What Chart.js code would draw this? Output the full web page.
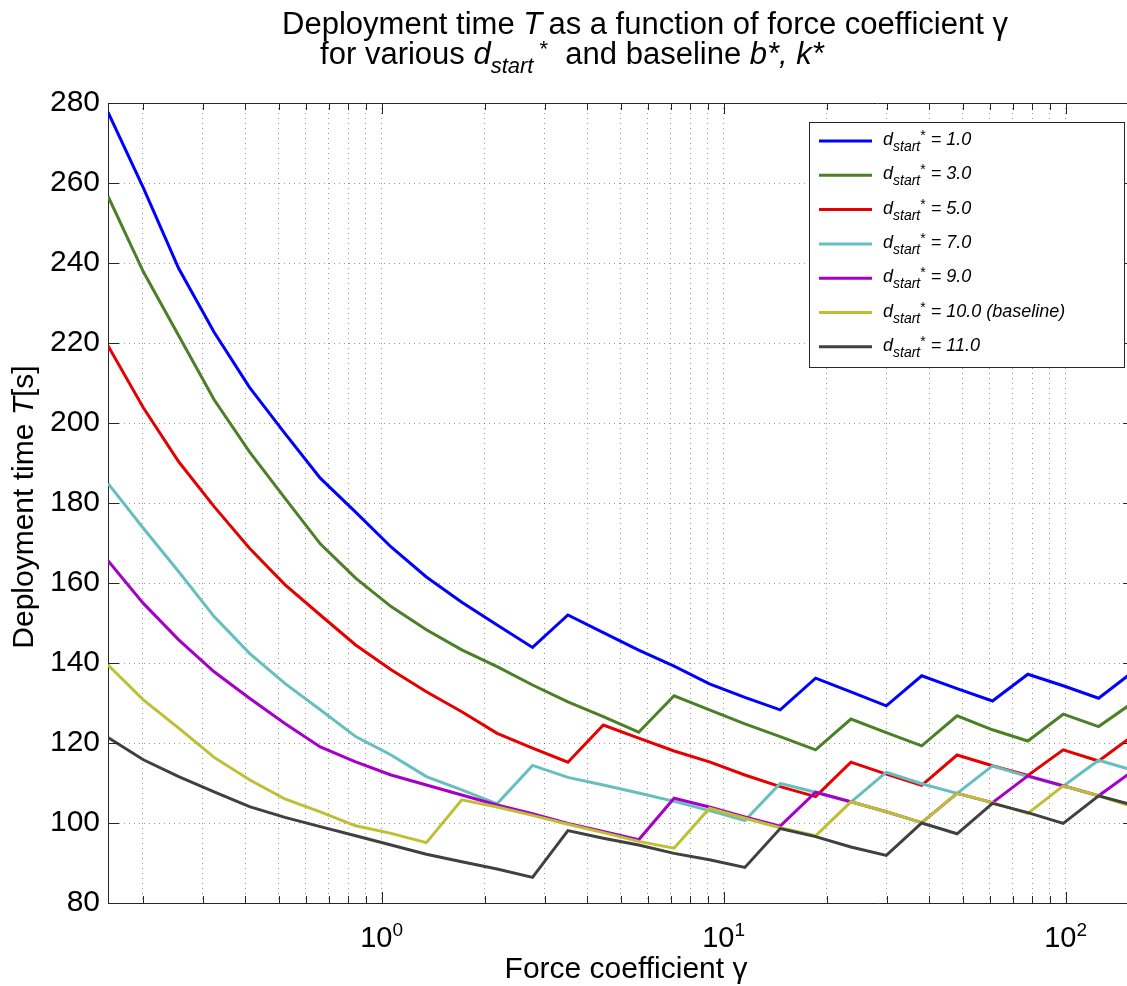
<!DOCTYPE html>
<html>
<head>
<meta charset="UTF-8">
<title>Deployment time vs force coefficient</title>
<script src="https://cdn.jsdelivr.net/npm/chart.js"></script>
<style>
  html, body { margin: 0; padding: 0; background: #fff; overflow: hidden; }
  canvas { display: block; }
</style>
</head>
<body>
<canvas id="myChart" width="1140" height="986"></canvas>

<script>
// force coefficient gamma, log-spaced samples
const gamma = [0.1585, 0.2011, 0.2552, 0.3239, 0.4110, 0.5215, 0.6618, 0.8397, 1.066, 1.352,
               1.716, 2.177, 2.763, 3.506, 4.450, 5.646, 7.165, 9.093, 11.54, 14.64,
               18.58, 23.57, 29.91, 37.96, 48.17, 61.12, 77.57, 98.42, 124.9, 158.5];

// deployment time T [s] for each d_start*
const T_d1 = [277.7, 258.8, 238.6, 222.7, 208.9, 197.4, 186.2, 177.7, 169.0, 161.5,
              155.2, 149.5, 143.9, 152.0, 147.6, 143.2, 139.2, 134.8, 131.4, 128.3,
              136.2, 132.8, 129.3, 136.8, 133.6, 130.5, 137.2, 134.3, 131.2, 138.0];
const T_d3 = [256.7, 237.8, 221.8, 205.8, 192.8, 181.2, 169.8, 161.2, 154.1, 148.3,
              143.3, 139.1, 134.5, 130.3, 126.6, 122.7, 131.8, 128.3, 124.8, 121.6,
              118.3, 126.0, 122.6, 119.3, 126.8, 123.3, 120.5, 127.2, 124.1, 130.3];
const T_d5 = [219.3, 203.8, 190.3, 179.1, 168.7, 159.6, 152.0, 144.5, 138.3, 132.8,
              127.8, 122.4, 118.7, 115.2, 124.5, 121.2, 118.0, 115.3, 112.0, 109.1,
              106.6, 115.2, 112.2, 109.4, 117.0, 114.3, 111.9, 118.3, 115.5, 122.0];
const T_d7 = [184.9, 173.7, 162.8, 151.6, 142.4, 134.9, 128.3, 121.6, 117.0, 111.6,
              108.3, 104.8, 114.4, 111.4, 109.5, 107.5, 105.4, 103.1, 100.6, 109.9,
              107.7, 105.2, 112.7, 109.8, 107.4, 114.3, 111.6, 109.2, 115.7, 113.1];
const T_d9 = [165.6, 154.9, 145.8, 137.8, 131.2, 124.9, 119.0, 115.3, 112.0, 109.5,
              107.0, 104.5, 102.3, 99.9, 97.9, 95.8, 106.2, 104.0, 101.5, 99.2,
              107.7, 105.3, 102.8, 100.1, 107.4, 105.1, 111.8, 109.3, 106.8, 113.2];
const T_d10 = [139.5, 130.8, 123.7, 116.4, 110.8, 106.0, 102.8, 99.3, 97.4, 95.1,
               105.8, 104.0, 101.9, 99.7, 97.6, 95.4, 93.7, 103.7, 101.2, 98.8,
               96.8, 105.3, 102.8, 100.1, 107.4, 105.1, 102.4, 109.3, 106.8, 104.0];
const T_d11 = [121.4, 115.8, 111.6, 107.8, 104.1, 101.4, 99.1, 96.8, 94.5, 92.2,
               90.3, 88.5, 86.4, 98.1, 96.2, 94.5, 92.4, 90.8, 88.9, 98.6,
               96.6, 94.0, 91.9, 100.0, 97.3, 104.9, 102.6, 99.9, 106.8, 104.4];

const series = [T_d1, T_d3, T_d5, T_d7, T_d9, T_d10, T_d11];
const dStart = ['1.0', '3.0', '5.0', '7.0', '9.0', '10.0', '11.0'];
const dNote = ['', '', '', '', '', ' (baseline)', ''];

const lineColors = ['#0000ff', '#4b8026', '#e60000', '#66bfbf', '#a600c8', '#bfbf33', '#404040'];

const xMin = 0.1585, xMax = 158.5;
const yMin = 80, yMax = 280, yStep = 20;
const xTicks = [0.2, 0.3, 0.4, 0.5, 0.6, 0.7, 0.8, 0.9, 1, 2, 3, 4, 5, 6, 7, 8, 9,
                10, 20, 30, 40, 50, 60, 70, 80, 90, 100];
const xLabelTicks = [1, 10, 100];

const FONT = '"Liberation Sans", Arial, Helvetica, sans-serif';
const axisColor = '#262626';
const gridColor = 'rgba(0,0,0,0.4)';

// draw a line of mixed-style text; runs = [{t, size, italic, dy}]
function drawRuns(ctx, runs, x, y, align) {
  let w = 0;
  runs.forEach(r => {
    ctx.font = (r.italic ? 'italic ' : '') + r.size + 'px ' + FONT;
    r.w = ctx.measureText(r.t).width;
    w += r.w;
  });
  let cx = align === 'center' ? x - w / 2 : x;
  runs.forEach(r => {
    ctx.font = (r.italic ? 'italic ' : '') + r.size + 'px ' + FONT;
    ctx.fillText(r.t, cx, y + (r.dy || 0));
    cx += r.w;
  });
}

const decorations = {
  id: 'decorations',
  afterDraw(chart) {
    const { ctx, chartArea: a, scales: { x, y } } = chart;
    ctx.save();
    ctx.strokeStyle = axisColor;
    ctx.lineWidth = 1;

    // top and right sides of the box
    ctx.beginPath();
    ctx.moveTo(a.left, a.top + 0.5);
    ctx.lineTo(a.right, a.top + 0.5);
    ctx.moveTo(a.right - 0.5, a.top);
    ctx.lineTo(a.right - 0.5, a.bottom);
    ctx.stroke();

    // tick marks pointing into the plot
    ctx.beginPath();
    x.ticks.forEach(t => {
      const px = Math.round(x.getPixelForValue(t.value)) + 0.5;
      const len = xLabelTicks.includes(t.value) ? 11 : 7;
      ctx.moveTo(px, a.bottom); ctx.lineTo(px, a.bottom - len);
      ctx.moveTo(px, a.top); ctx.lineTo(px, a.top + len);
    });
    y.ticks.forEach(t => {
      const py = Math.round(y.getPixelForValue(t.value)) + 0.5;
      ctx.moveTo(a.left, py); ctx.lineTo(a.left + 11, py);
      ctx.moveTo(a.right, py); ctx.lineTo(a.right - 11, py);
    });
    ctx.stroke();

    ctx.fillStyle = '#000';
    ctx.textBaseline = 'alphabetic';

    // decade labels 10^n
    xLabelTicks.forEach(v => {
      const exp = String(Math.round(Math.log10(v)));
      const px = x.getPixelForValue(v);
      ctx.font = '29px ' + FONT;
      const wb = ctx.measureText('10').width;
      ctx.font = '19px ' + FONT;
      const we = ctx.measureText(exp).width;
      const left = px - (wb + we) / 2;
      ctx.font = '29px ' + FONT;
      ctx.fillText('10', left, a.bottom + 44);
      ctx.font = '19px ' + FONT;
      ctx.fillText(exp, left + wb, a.bottom + 33);
    });

    // axis titles
    drawRuns(ctx, [{ t: 'Force coefficient \u03b3', size: 30 }], (a.left + a.right) / 2 + 5, a.bottom + 75, 'center');
    ctx.save();
    ctx.translate(33, (a.top + a.bottom) / 2 + 4);
    ctx.rotate(-Math.PI / 2);
    drawRuns(ctx, [
      { t: 'Deployment time ', size: 30 },
      { t: 'T', size: 30, italic: true },
      { t: '[s]', size: 30 }
    ], 0, 0, 'center');
    ctx.restore();

    // title
    drawRuns(ctx, [
      { t: 'Deployment time ', size: 31 },
      { t: 'T', size: 31, italic: true },
      { t: '\u2009as a function of force coefficient \u03b3', size: 31 }
    ], 645, 34, 'center');
    drawRuns(ctx, [
      { t: 'for various ', size: 31 },
      { t: 'd', size: 31, italic: true },
      { t: 'start', size: 22, italic: true, dy: 9 },
      { t: ' *', size: 22, dy: -8 },
      { t: '  and baseline ', size: 31 },
      { t: 'b*, k*', size: 31, italic: true }
    ], 572, 64, 'center');

    // legend
    const box = { l: 809, t: 122, r: 1125, b: 368 };
    ctx.fillStyle = '#fff';
    ctx.fillRect(box.l, box.t, box.r - box.l, box.b - box.t);
    ctx.strokeStyle = axisColor;
    ctx.strokeRect(box.l + 0.5, box.t + 0.5, box.r - box.l - 1, box.b - box.t - 1);
    chart.data.datasets.forEach((ds, i) => {
      const cy = 141 + i * 34.3;
      ctx.strokeStyle = ds.borderColor;
      ctx.lineWidth = 3;
      ctx.beginPath();
      ctx.moveTo(819, cy); ctx.lineTo(872, cy);
      ctx.stroke();
      ctx.fillStyle = '#000';
      drawRuns(ctx, [
        { t: 'd', size: 18, italic: true },
        { t: 'start', size: 14, italic: true, dy: 6 },
        { t: '*', size: 14, dy: -5 },
        { t: ' = ' + dStart[i] + dNote[i], size: 18, italic: true }
      ], 883, cy + 4, 'left');
    });
    ctx.restore();
  }
};

const ctx = document.getElementById('myChart').getContext('2d');
new Chart(ctx, {
  type: 'line',
  data: {
    datasets: series.map((s, i) => ({
      label: 'd_start* = ' + dStart[i] + dNote[i],
      data: s.map((v, j) => ({ x: gamma[j], y: v })),
      borderColor: lineColors[i],
      backgroundColor: lineColors[i],
      borderWidth: 3,
      pointRadius: 0,
      tension: 0,
      fill: false,
      order: series.length - 1 - i
    }))
  },
  options: {
    responsive: false,
    animation: false,
    devicePixelRatio: 1,
    layout: { padding: { top: 103, right: 6, left: 0, bottom: 0 } },
    plugins: { legend: { display: false }, tooltip: { enabled: false } },
    scales: {
      x: {
        type: 'logarithmic',
        min: xMin,
        max: xMax,
        afterBuildTicks: s => { s.ticks = xTicks.map(v => ({ value: v })); },
        afterFit: s => { s.height = 83; },
        ticks: { display: false, autoSkip: false },
        grid: { color: gridColor, lineWidth: 1, drawTicks: false },
        border: { display: true, color: axisColor, width: 1, dash: [1, 4] }
      },
      y: {
        min: yMin,
        max: yMax,
        afterFit: s => { s.width = 108; },
        ticks: {
          stepSize: yStep,
          padding: 8,
          color: '#000',
          font: { family: FONT, size: 30 }
        },
        grid: { color: gridColor, lineWidth: 1, drawTicks: false },
        border: { display: true, color: axisColor, width: 1, dash: [1, 4] }
      }
    }
  },
  plugins: [decorations]
});
</script>
</body>
</html>
